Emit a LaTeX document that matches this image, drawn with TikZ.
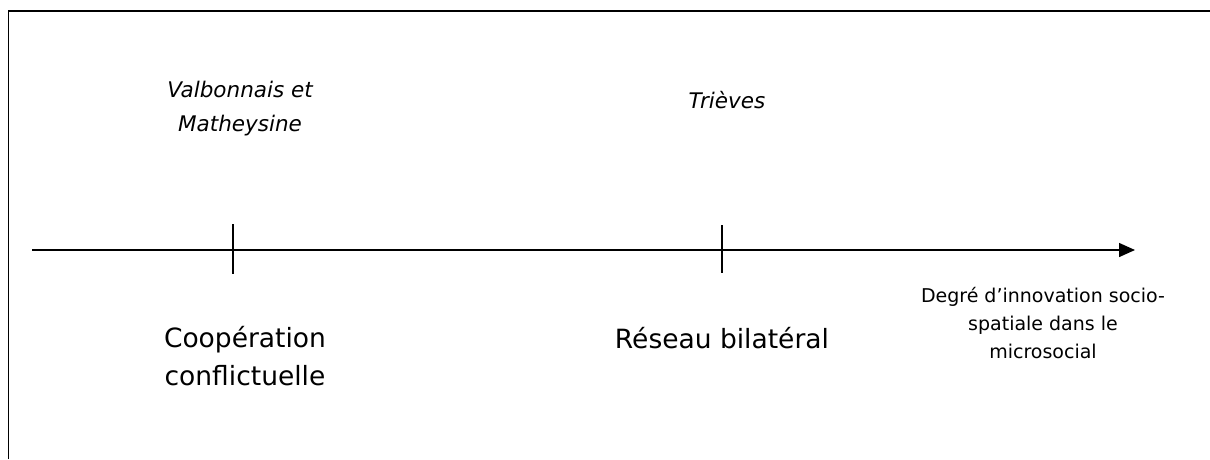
\documentclass[tikz,border=0pt]{standalone}
\usepackage{fontspec}
\setmainfont{DejaVu Sans}
\usetikzlibrary{arrows.meta}
\tikzset{
  framel/.style={line width=1.6pt, draw=black},
  axisl/.style={line width=1.4pt, -{Triangle[length=16pt,width=14pt]}},
  tickl/.style={line width=1.4pt},
  toplabel/.style={font=\fontsize{21.5}{34}\selectfont\itshape, align=center, inner sep=0pt, anchor=base},
  bigtext/.style={font=\fontsize{26.5}{38}\selectfont, align=center, inner sep=0pt, anchor=base},
  axtext/.style={font=\fontsize{19}{28}\selectfont, align=center, inner sep=0pt, anchor=base}
}
\begin{document}
\begin{tikzpicture}[x=1pt,y=-1pt]
\useasboundingbox (0,0) rectangle (1210,459);
% frame
\coordinate (fbl) at (8.5,459);
\coordinate (ftl) at (8.5,11);
\coordinate (ftr) at (1210,11);
\draw[framel] (fbl) -- (ftl) -- (ftr);
% axis
\coordinate (ax0) at (32,250);
\coordinate (ax1) at (1135,250);
\draw[axisl] (ax0) -- (ax1);
% ticks
\coordinate (t1a) at (233,224);
\coordinate (t1b) at (233,274);
\coordinate (t2a) at (722,225);
\coordinate (t2b) at (722,273);
\draw[tickl] (t1a) -- (t1b);
\draw[tickl] (t2a) -- (t2b);
% labels (base anchor = baseline of last line)
\node[toplabel] (valb) at (240,131) {Valbonnais et\\Matheysine};
\node[toplabel] (trie) at (727,108) {Trièves};
\node[bigtext] (coop) at (245,385) {Coopération\\conflictuelle};
\node[bigtext] (rese) at (722,348) {Réseau bilatéral};
\node[axtext] (degr) at (1043,358) {Degré d’innovation socio-\\spatiale dans le\\microsocial};
\end{tikzpicture}
\end{document}
